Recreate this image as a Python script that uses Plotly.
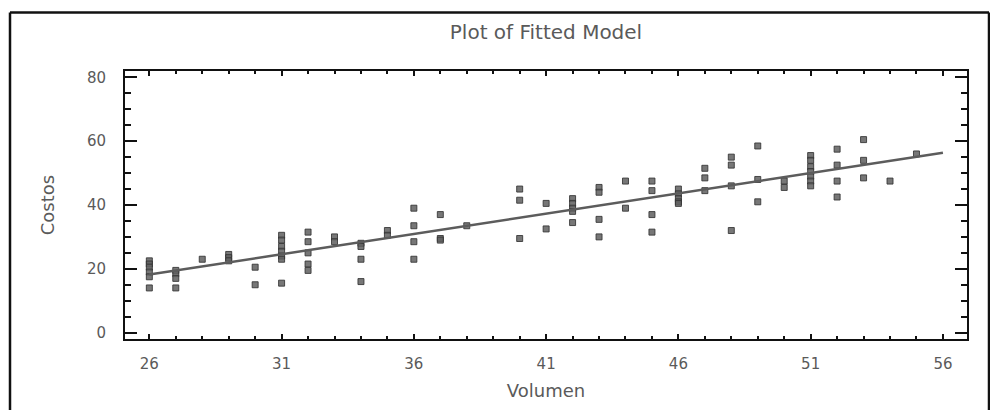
import plotly.graph_objects as go

# ---- data ----
volumen = (
    [26] * 6 + [27] * 4 + [28] + [29] * 3 + [30] * 2 + [31] * 7 + [32] * 5 +
    [33] * 2 + [34] * 4 + [35] * 2 + [36] * 4 + [37] * 3 + [38] +
    [40] * 3 + [41] * 2 + [42] * 5 + [43] * 4 + [44] * 2 + [45] * 4 +
    [46] * 5 + [47] * 3 + [48] * 4 + [49] * 3 + [50] * 2 + [51] * 7 +
    [52] * 4 + [53] * 3 + [54] + [55]
)
costos = [
    22.5, 21.5, 20.5, 19, 17.5, 14,        # 26
    19.5, 18.5, 17, 14,                    # 27
    23,                                    # 28
    24.5, 23.5, 22.5,                      # 29
    20.5, 15,                              # 30
    30.5, 29, 27, 25.5, 24, 23, 15.5,      # 31
    31.5, 28.5, 25, 21.5, 19.5,            # 32
    30, 28.5,                              # 33
    28, 27, 23, 16,                        # 34
    32, 30.5,                              # 35
    39, 33.5, 28.5, 23,                    # 36
    37, 29.5, 29,                          # 37
    33.5,                                  # 38
    45, 41.5, 29.5,                        # 40
    40.5, 32.5,                            # 41
    42, 40.5, 39, 38, 34.5,                # 42
    45.5, 44, 35.5, 30,                    # 43
    47.5, 39,                              # 44
    47.5, 44.5, 37, 31.5,                  # 45
    45, 43.5, 42, 41, 40.5,                # 46
    51.5, 48.5, 44.5,                      # 47
    55, 52.5, 46, 32,                      # 48
    58.5, 48, 41,                          # 49
    47.5, 45.5,                            # 50
    55.5, 54, 52, 50.5, 49, 47.5, 46,      # 51
    57.5, 52.5, 47.5, 42.5,                # 52
    60.5, 54, 48.5,                        # 53
    47.5,                                  # 54
    56,                                    # 55
]
fit_x = [26, 56]
fit_y = [18.2, 56.4]

x_ticks = [26, 31, 36, 41, 46, 51, 56]
y_ticks = [0, 20, 40, 60, 80]

FONT = "DejaVu Sans"
TXT = "#5a5a5a"

fig = go.Figure()
fig.add_trace(go.Scatter(
    x=volumen, y=costos, mode="markers",
    marker=dict(symbol="square", size=6, color="rgba(95,95,95,0.85)",
                line=dict(width=1, color="rgba(50,50,50,0.85)")),
    showlegend=False, hoverinfo="x+y",
))
fig.add_trace(go.Scatter(
    x=fit_x, y=fit_y, mode="lines",
    line=dict(color="#5c5c5c", width=2.5),
    showlegend=False, hoverinfo="skip",
))

axis_common = dict(
    showgrid=False, zeroline=False, showline=True, linecolor="#111",
    linewidth=2, mirror="allticks", ticks="inside", tickcolor="#111",
    tickfont=dict(family=FONT, size=15, color=TXT),
)

fig.update_layout(
    width=990, height=410,
    margin=dict(l=125, r=23, t=71, b=71),
    paper_bgcolor="white", plot_bgcolor="white",
    font=dict(family=FONT, color=TXT),
    title=dict(text="Plot of Fitted Model", x=0.5, xref="paper",
               y=1 - 31.5 / 410, yref="container", xanchor="center", yanchor="middle",
               font=dict(family=FONT, size=20, color=TXT)),
    xaxis=dict(
        range=[25.08, 56.91], tickvals=x_ticks, ticktext=[str(v) for v in x_ticks],
        ticklen=5, tickwidth=2,
        minor=dict(dtick=1, tick0=26, ticks="inside", ticklen=3, tickwidth=2, tickcolor="#111"),
        ticklabelstandoff=10,
        title=dict(text="Volumen", standoff=12, font=dict(family=FONT, size=18, color=TXT)),
        **axis_common,
    ),
    yaxis=dict(
        range=[-2, 82], tickvals=y_ticks, ticktext=[str(v) for v in y_ticks],
        ticklen=12, tickwidth=2,
        minor=dict(dtick=5, tick0=0, ticks="inside", ticklen=6, tickwidth=2, tickcolor="#111"),
        ticklabelstandoff=14,
        title=dict(text="Costos", standoff=28, font=dict(family=FONT, size=18, color=TXT)),
        **axis_common,
    ),
)

# outer frame of the original picture (cut at the bottom)
pw = 990 - 125 - 23
ph = 410 - 71 - 71
def px(xp):
    return (xp - 125) / pw
def py(yp):
    return (410 - 71 - yp) / ph
for x0, y0, x1, y1 in [(10, 12.5, 989, 12.5), (10, 12.5, 10, 410), (989, 12.5, 989, 410)]:
    fig.add_shape(type="line", xref="paper", yref="paper",
                  x0=px(x0), y0=py(y0), x1=px(x1), y1=py(y1),
                  line=dict(color="#111", width=2.5))

fig.write_html("out.html")
